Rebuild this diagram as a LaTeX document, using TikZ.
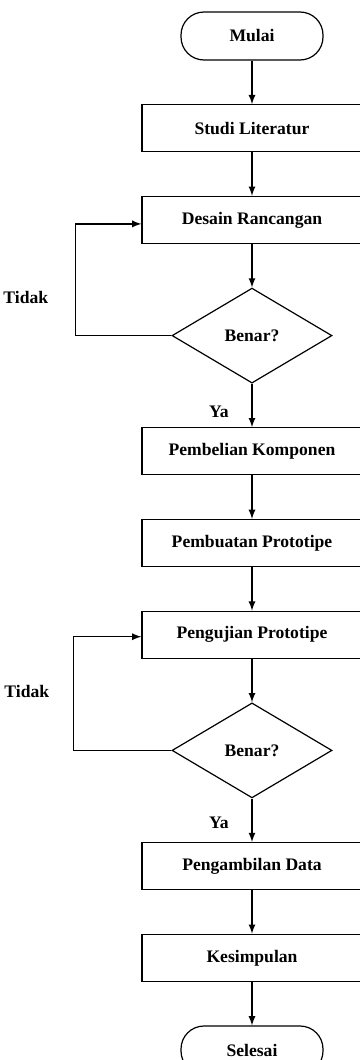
\documentclass[tikz,border=0pt]{standalone}
\usepackage{fontspec}
\setmainfont{Liberation Serif}
\usetikzlibrary{positioning,shapes,arrows}

\begin{document}
\begin{tikzpicture}[node distance=21.75pt, line width=0.6pt, font=\bfseries\fontsize{8.8}{10}\selectfont,
	proses/.style={rectangle, draw=black, minimum width=110pt, minimum height=23.5pt, inner sep=0pt},
	terminal/.style={rectangle, draw=black, rounded corners=11.5pt, minimum width=71pt, minimum height=24pt, inner sep=0pt},
	keputusan/.style={diamond, draw=black, minimum width=80pt, minimum height=47.5pt, inner sep=0pt},
	panah/.style={-latex}]
	\useasboundingbox (0,0) rectangle (179.5pt,-530pt);

	\node (mulai) [terminal] at (126pt,-18pt) {Mulai};
	\node (studi) [proses, below=of mulai] {Studi Literatur};
	\node (desain) [proses, below=of studi] {Desain Rancangan};
	\node (cek1) [keputusan, below=of desain] {Benar?};
	\node (pembelian) [proses, below=of cek1] {Pembelian Komponen};
	\node (pembuatan) [proses, below=of pembelian] {Pembuatan Prototipe};
	\node (pengujian) [proses, below=of pembuatan] {Pengujian Prototipe};
	\node (cek2) [keputusan, below=of pengujian] {Benar?};
	\node (pengambilan) [proses, below=of cek2] {Pengambilan Data};
	\node (kesimpulan) [proses, below=of pengambilan] {Kesimpulan};
	\node (selesai) [terminal, below=of kesimpulan] {Selesai};

	\draw[panah] (mulai) -- (studi);
	\draw[panah] (studi) -- (desain);
	\draw[panah] (desain) -- (cek1);
	\draw[panah] (cek1) -- node[pos=0.64, left=8pt] (ya1) {Ya} (pembelian);
	\draw[panah] (pembelian) -- (pembuatan);
	\draw[panah] (pembuatan) -- (pengujian);
	\draw[panah] (pengujian) -- (cek2);
	\draw[panah] (cek2) -- node[pos=0.57, left=8pt] (ya2) {Ya} (pengambilan);
	\draw[panah] (pengambilan) -- (kesimpulan);
	\draw[panah] (kesimpulan) -- (selesai);

	\draw[panah] (cek1.west) -- ++(-48pt,0) |- node[pos=0.17, left=10pt] (tidak1) {Tidak} ([yshift=-2pt]desain.west);
	\draw[panah] (cek2.west) -- ++(-49pt,0) |- node[pos=0.26, left=8.5pt] (tidak2) {Tidak} ([yshift=-1pt]pengujian.west);
\end{tikzpicture}
\end{document}
